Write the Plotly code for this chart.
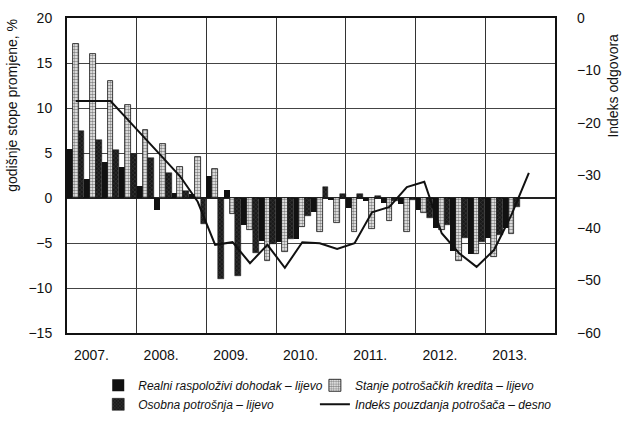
import plotly.graph_objects as go

quarters = [f"{y}Q{q}" for y in range(2007, 2014) for q in range(1, 5)]

# Bar series (annual rates of change, %), quarterly 2007Q1 - 2013Q2
realni = [5.4, 2.1, 4.0, 3.5, 1.3, -1.3, 0.6, 0.5,
          2.4, 0.9, -3.0, -4.8, -4.9, -4.6, -1.6, -0.2,
          -1.1, -0.3, -0.6, -0.7, -1.3, -3.3, -5.9, -6.2,
          -4.4, -3.3]
stanje = [17.1, 16.0, 13.0, 10.3, 7.6, 6.0, 3.4, 4.6,
          3.2, -1.8, -3.5, -7.0, -6.0, -3.2, -3.8, -2.8,
          -3.8, -3.4, -2.5, -3.8, -1.7, -3.6, -7.0, -6.2,
          -6.6, -4.0]
osobna = [7.4, 6.5, 5.3, 4.9, 4.5, 2.8, 0.8, -2.9,
          -9.0, -8.7, -6.1, -5.1, -4.6, -2.0, 1.2, 0.5,
          0.4, 0.2, -0.3, -0.2, -2.2, -3.0, -4.4, -4.9,
          -4.1, -1.0]
# Consumer confidence index (right axis), quarterly 2007Q1 - 2013Q3
indeks = [-15.8, -15.8, -15.8, -19.4, -22.9, -26.6, -30.2, -35.0,
          -43.2, -42.7, -46.7, -43.2, -47.6, -42.7, -42.9, -44.0,
          -42.9, -37.0, -36.0, -32.2, -31.2, -41.0, -44.8, -47.4,
          -44.2, -37.5, -29.5]

years = ["2007.", "2008.", "2009.", "2010.", "2011.", "2012.", "2013."]

names = ["Realni raspoloživi dohodak – lijevo",
         "Stanje potrošačkih kredita – lijevo",
         "Osobna potrošnja – lijevo",
         "Indeks pouzdanja potrošača – desno"]

x_bar = list(range(len(realni)))
x_line = list(range(len(indeks)))
year_ticks = [4 * i + 0.9 for i in range(len(years))]
year_bounds = [4 * i - 0.5 for i in range(1, len(years))]

FONT = "Liberation Sans Narrow, Liberation Sans, Arial, sans-serif"

fig = go.Figure()
fig.add_trace(go.Bar(x=x_bar, y=realni, name=names[0], legend="legend",
                     marker=dict(color="#111111", line=dict(width=0))))
fig.add_trace(go.Bar(x=x_bar, y=stanje, name=names[1], legend="legend2",
                     marker=dict(color="#ffffff",
                                 pattern=dict(shape=".", fgcolor="#111111", bgcolor="#ffffff",
                                              size=3, solidity=0.6),
                                 line=dict(color="#111111", width=0.8))))
fig.add_trace(go.Bar(x=x_bar, y=osobna, name=names[2], legend="legend",
                     marker=dict(color="#1a1a1a",
                                 pattern=dict(shape="x", fgcolor="#777777", bgcolor="#1a1a1a",
                                              size=3, solidity=0.25),
                                 line=dict(color="#111111", width=0.5))))
fig.add_trace(go.Scatter(x=x_line, y=indeks, name=names[3], yaxis="y2", mode="lines",
                         legend="legend2", line=dict(color="#111111", width=2)))

legend_common = dict(orientation="v", yanchor="top", xanchor="left", traceorder="normal",
                     font=dict(family=FONT, size=12, style="italic"),
                     tracegroupgap=0, itemwidth=30, bgcolor="rgba(0,0,0,0)")

fig.update_layout(
    width=622, height=425,
    margin=dict(l=67, r=67, t=18, b=92, autoexpand=False),
    paper_bgcolor="white", plot_bgcolor="white",
    font=dict(family=FONT, size=14, color="#111111"),
    barmode="group", bargap=0, bargroupgap=0,
    showlegend=True,
    legend=dict(x=0.064, y=-0.12, **legend_common),
    legend2=dict(x=0.508, y=-0.12, **legend_common),
    xaxis=dict(range=[-0.5, 27.5], tickmode="array", tickvals=year_ticks, ticktext=years,
               showgrid=False, zeroline=False, ticks="", ticklabelstandoff=8,
               showline=True, mirror=True, linecolor="#111111", linewidth=2,
               minor=dict(tickmode="array", tickvals=year_bounds, showgrid=True,
                          gridcolor="#333333", gridwidth=1, ticks="")),
    yaxis=dict(range=[-15, 20], tick0=-15, dtick=5, showgrid=True, gridcolor="#444444",
               gridwidth=1, zeroline=True, zerolinecolor="#222222", zerolinewidth=1.5,
               showline=True, mirror=True, linecolor="#111111", linewidth=2,
               ticks="", ticklabelstandoff=10),
    yaxis2=dict(range=[-60, 0], dtick=10, overlaying="y", side="right", showgrid=False,
                zeroline=False, ticks="", ticklabelstandoff=21, showline=False),
    annotations=[
        dict(text="godišnje stope promjene, %", xref="paper", yref="paper",
             x=-0.113, y=0.724, xanchor="center", yanchor="middle", textangle=-90,
             showarrow=False, font=dict(family=FONT, size=14)),
        dict(text="Indeks odgovora", xref="paper", yref="paper",
             x=1.118, y=0.784, xanchor="center", yanchor="middle", textangle=-90,
             showarrow=False, font=dict(family=FONT, size=14)),
    ],
)

fig.write_html("out.html", config={"displayModeBar": False},
               post_script="document.body.style.margin='0';document.body.style.padding='0';")
